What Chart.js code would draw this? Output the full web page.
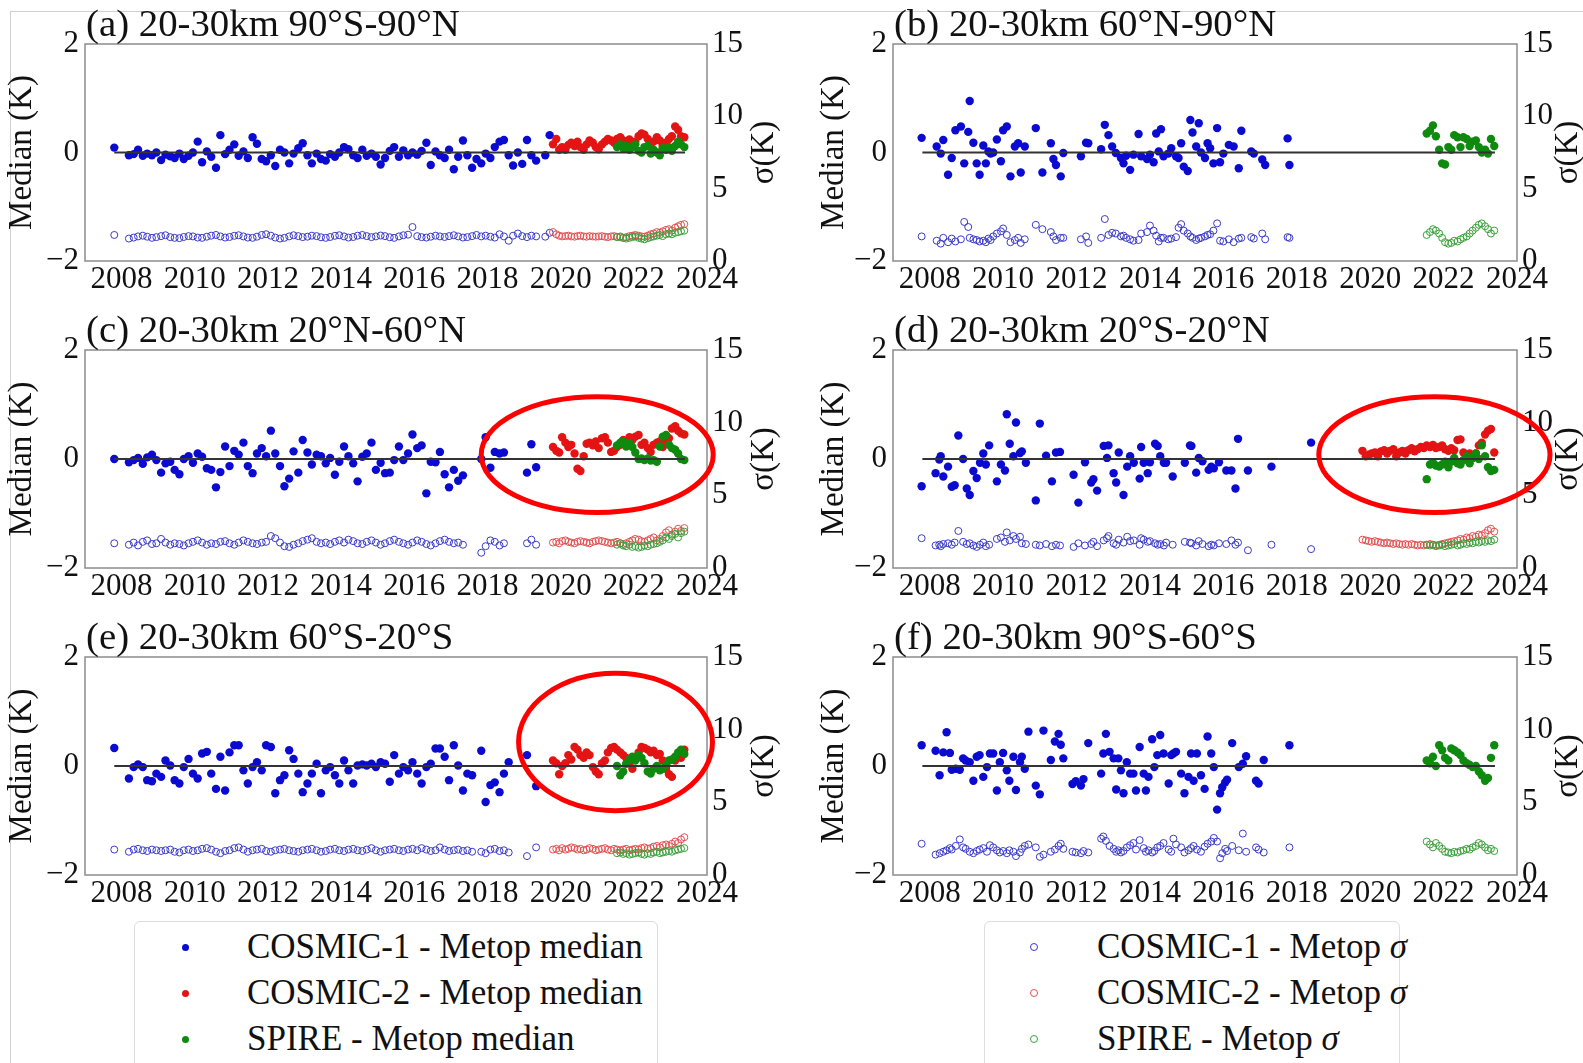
<!DOCTYPE html>
<html>
<head>
<meta charset="utf-8">
<script src="https://cdn.jsdelivr.net/npm/chart.js@4.4.0/dist/chart.umd.min.js"></script>
<style>
  body { margin: 0; background: #fff; width: 1583px; height: 1063px; overflow: hidden; position: relative; font-family: "Liberation Serif", serif; }
  .frame { position: absolute; left: 10px; top: 11px; right: 0; bottom: 0; border-top: 1px solid #d0d0d0; border-left: 1px solid #d0d0d0; }
  canvas { position: absolute; }
  .legend { position: absolute; top: 921px; height: 160px; border: 1px solid #dcdcdc; border-radius: 6px; background: #fff; }
  .legend .txt { position: absolute; font-size: 35px; line-height: 40px; color: #111; white-space: nowrap; }
  .legend .mk { position: absolute; border-radius: 50%; box-sizing: border-box; }
</style>
</head>
<body>
<div class="frame"></div>

<div class="legend" style="left:134px;width:522px;">
  <span class="mk" style="left:47px;top:22px;width:7px;height:7px;background:#0a0ad0"></span>
  <div class="txt" style="left:112px;top:5px">COSMIC-1 - Metop median</div>
  <span class="mk" style="left:47px;top:68px;width:7px;height:7px;background:#e41414"></span>
  <div class="txt" style="left:112px;top:51px">COSMIC-2 - Metop median</div>
  <span class="mk" style="left:47px;top:114px;width:7px;height:7px;background:#0e8a0e"></span>
  <div class="txt" style="left:112px;top:97px">SPIRE - Metop median</div>
</div>

<div class="legend" style="left:984px;width:414px;">
  <span class="mk" style="left:45px;top:21px;width:8px;height:8px;border:1px solid #3a3ac8"></span>
  <div class="txt" style="left:112px;top:5px">COSMIC-1 - Metop <i>σ</i></div>
  <span class="mk" style="left:45px;top:67px;width:8px;height:8px;border:1px solid #e05050"></span>
  <div class="txt" style="left:112px;top:51px">COSMIC-2 - Metop <i>σ</i></div>
  <span class="mk" style="left:45px;top:113px;width:8px;height:8px;border:1px solid #3aa03a"></span>
  <div class="txt" style="left:112px;top:97px">SPIRE - Metop <i>σ</i></div>
</div>

<script>
// axis ticks
const xTicks = [2008, 2010, 2012, 2014, 2016, 2018, 2020, 2022, 2024];
const medTicks = [-2, 0, 2];
const sigTicks = [0, 5, 10, 15];
const zeroLineX = [2007.8, 2023.4];

// COSMIC-1 months shared by panels a, c, e
const c1Months = [2007.80,
  2008.20, 2008.33, 2008.45, 2008.58, 2008.70, 2008.83, 2008.95,
  2009.08, 2009.20, 2009.33, 2009.45, 2009.58, 2009.70, 2009.83, 2009.95,
  2010.08, 2010.20, 2010.33, 2010.45, 2010.58, 2010.70, 2010.83, 2010.95,
  2011.08, 2011.20, 2011.33, 2011.45, 2011.58, 2011.70, 2011.83, 2011.95,
  2012.08, 2012.20, 2012.33, 2012.45, 2012.58, 2012.70, 2012.83, 2012.95,
  2013.08, 2013.20, 2013.33, 2013.45, 2013.58, 2013.70, 2013.83, 2013.95,
  2014.08, 2014.20, 2014.33, 2014.45, 2014.58, 2014.70, 2014.83, 2014.95,
  2015.08, 2015.20, 2015.33, 2015.45, 2015.58, 2015.70, 2015.83, 2015.95,
  2016.08, 2016.20, 2016.33, 2016.45, 2016.58, 2016.70, 2016.83, 2016.95,
  2017.08, 2017.20, 2017.33, 2017.45, 2017.58, 2017.70, 2017.83, 2017.95,
  2018.08, 2018.20, 2018.33, 2018.45, 2018.58, 2018.70, 2018.83, 2018.95,
  2019.08, 2019.20, 2019.33, 2019.45, 2019.58, 2019.70];

// COSMIC-2 months (panels a, c, d, e)
const c2Months = [2019.79, 2019.88, 2019.96,
  2020.04, 2020.13, 2020.21, 2020.29, 2020.38, 2020.46, 2020.54, 2020.63, 2020.71, 2020.79, 2020.88, 2020.96,
  2021.04, 2021.13, 2021.21, 2021.29, 2021.38, 2021.46, 2021.54, 2021.63, 2021.71, 2021.79, 2021.88, 2021.96,
  2022.04, 2022.13, 2022.21, 2022.29, 2022.38, 2022.46, 2022.54, 2022.63, 2022.71, 2022.79, 2022.88, 2022.96,
  2023.04, 2023.13, 2023.21, 2023.29, 2023.38];

// SPIRE months (all panels)
const spMonths = [2021.54, 2021.63, 2021.71, 2021.79, 2021.88, 2021.96,
  2022.04, 2022.13, 2022.21, 2022.29, 2022.38, 2022.46, 2022.54, 2022.63, 2022.71, 2022.79, 2022.88, 2022.96,
  2023.04, 2023.13, 2023.21, 2023.29, 2023.38];

// (a) 90S-90N
const aBlueMed = [0.09,
  -0.05, -0.03, 0.05, -0.06, -0.02, -0.05, 0.0,
  -0.14, -0.04, -0.07, -0.1, -0.02, -0.12, -0.06, 0.0,
  0.2, -0.18, 0.02, -0.08, -0.28, 0.32, -0.03, 0.05,
  0.15, -0.06, 0.02, -0.1, 0.28, 0.16, -0.12, -0.16,
  -0.05, -0.25, 0.05, 0.0, -0.2, -0.02, 0.08, 0.17,
  -0.05, -0.2, -0.02, -0.12, -0.15, -0.03, -0.08, 0.0,
  0.1, 0.06, -0.05, -0.1, 0.05, -0.06, -0.02, -0.08,
  -0.22, -0.1, 0.03, 0.1, -0.08, 0.04, -0.05, 0.0,
  -0.04, 0.03, 0.18, -0.23, 0.02, -0.05, -0.1, 0.05,
  -0.31, -0.08, 0.22, -0.05, -0.28, -0.12, -0.2, -0.02,
  -0.1, 0.1, 0.2, 0.23, -0.05, -0.24, 0.0, -0.21,
  0.23, -0.05, -0.15, null, -0.05, 0.32];
const aBlueSig = [1.8,
  1.55, 1.62, 1.7, 1.75, 1.68, 1.6, 1.65,
  1.72, 1.78, 1.65, 1.6, 1.58, 1.66, 1.72, 1.7,
  1.62, 1.6, 1.68, 1.75, 1.8, 1.7, 1.62, 1.66,
  1.74, 1.78, 1.7, 1.62, 1.6, 1.68, 1.8, 1.85,
  1.75, 1.62, 1.55, 1.6, 1.7, 1.78, 1.72, 1.65,
  1.68, 1.75, 1.72, 1.64, 1.6, 1.66, 1.74, 1.78,
  1.7, 1.62, 1.66, 1.75, 1.8, 1.72, 1.65, 1.7,
  1.76, 1.72, 1.64, 1.6, 1.7, 1.78, 1.82, 2.35,
  1.72, 1.65, 1.62, 1.68, 1.75, 1.7, 1.66, 1.72,
  1.78, 1.7, 1.62, 1.65, 1.72, 1.8, 1.7, 1.75,
  1.68, 1.62, 1.85, 1.7, 1.4, 1.75, 1.9, 1.72,
  1.65, 1.75, 1.7, null, 1.68, 1.95];
const aRedMed = [0.15, 0.25, 0.05,
  0.1, 0.05, 0.14, 0.18, 0.12, 0.2, 0.1, 0.05, 0.15, 0.22, 0.18, 0.1,
  0.06, 0.15, 0.2, 0.25, 0.22, 0.18, 0.25, 0.28, 0.22, 0.2, 0.24, 0.18,
  0.2, 0.3, 0.35, 0.33, 0.25, 0.15, 0.2, 0.28, 0.22, 0.12, 0.18, 0.25,
  0.3, 0.48, 0.42, 0.3, 0.28];
const aRedSig = [2.0, 1.85, 1.75,
  1.7, 1.72, 1.75, 1.7, 1.68, 1.72, 1.75, 1.7, 1.68, 1.72, 1.7, 1.68,
  1.7, 1.72, 1.68, 1.65, 1.7, 1.72, 1.68, 1.65, 1.6, 1.65, 1.72, 1.75,
  1.8, 1.75, 1.7, 1.68, 1.75, 1.85, 1.9, 2.0, 1.95, 2.05, 2.15, 2.2,
  2.1, 2.3, 2.4, 2.5, 2.55];
const aGreenMed = [0.1, 0.15, 0.08, 0.12, 0.05, 0.1, 0.15, 0.03, 0.0, 0.1, 0.12, -0.02,
  0.05, 0.0, -0.05, 0.08, 0.05, 0.1, 0.03, 0.12, 0.2, 0.15, 0.1];
const aGreenSig = [1.65, 1.7, 1.6, 1.55, 1.6, 1.65, 1.7, 1.6, 1.55, 1.5, 1.58, 1.65,
  1.7, 1.75, 1.8, 1.72, 1.85, 1.9, 1.85, 1.95, 2.0, 2.05, 2.1];

// (b) 60N-90N
const bBlueMonths = [2007.78, 2008.19, 2008.30, 2008.37, 2008.50, 2008.60, 2008.70, 2008.85, 2008.94, 2009.05,
  2009.09, 2009.19, 2009.28, 2009.36, 2009.46, 2009.53, 2009.60, 2009.66, 2009.73, 2009.83,
  2009.94, 2010.00, 2010.10, 2010.20, 2010.32, 2010.41, 2010.48, 2010.59, 2010.89, 2011.07,
  2011.30, 2011.37, 2011.44, 2011.57, 2011.64, 2012.12, 2012.26, 2012.32, 2012.67, 2012.77,
  2012.87, 2012.97, 2013.07, 2013.21, 2013.28, 2013.35, 2013.46, 2013.55, 2013.69, 2013.76,
  2013.92, 2014.00, 2014.10, 2014.17, 2014.24, 2014.30, 2014.37, 2014.50, 2014.58, 2014.71,
  2014.78, 2014.85, 2014.92, 2015.03, 2015.10, 2015.16, 2015.26, 2015.33, 2015.39, 2015.50,
  2015.57, 2015.64, 2015.73, 2015.83, 2015.91, 2016.00, 2016.15, 2016.28, 2016.42, 2016.49,
  2016.76, 2016.83, 2017.06, 2017.14, 2017.75, 2017.80];
const bBlueMed = [0.27, 0.11, -0.02, 0.23, -0.41, -0.1, 0.41, 0.48, -0.2, 0.38,
  0.95, 0.18, -0.2, -0.41, 0.13, -0.2, 0.02, -0.02, 0.0, 0.24,
  -0.16, 0.41, 0.48, -0.44, 0.11, 0.17, -0.37, 0.11, 0.45, -0.37,
  0.17, -0.12, -0.23, -0.44, -0.01, -0.07, 0.18, 0.17, 0.06, 0.51,
  0.32, 0.11, -0.01, -0.1, -0.2, -0.06, -0.32, -0.04, 0.34, -0.07,
  -0.12, -0.04, -0.18, 0.35, 0.02, 0.43, -0.07, -0.02, 0.08, -0.07,
  -0.1, 0.17, -0.26, -0.34, 0.6, 0.37, 0.11, 0.54, 0.0, -0.1,
  0.17, 0.08, -0.2, 0.45, -0.18, -0.02, 0.14, 0.11, -0.29, 0.4,
  0.02, -0.02, -0.13, -0.23, 0.26, -0.23];
const bBlueSig = [1.7, 1.4, 1.2, 1.6, 1.3, 1.55, 1.35, 1.5, 2.7, 2.35,
  1.6, 1.5, 1.45, 1.35, 1.4, 1.3, 1.55, 1.45, 1.7, 1.9,
  2.05, 2.25, 1.8, 1.3, 1.45, 1.6, 1.25, 1.5, 2.5, 2.2,
  2.0, 1.7, 1.45, 1.6, 1.6, 1.5, 1.7, 1.25, 1.6, 2.9,
  1.8, 1.95, 1.9, 1.7, 1.75, 1.6, 1.5, 1.4, 1.45, 1.9,
  2.0, 2.45, 2.1, 1.75, 1.35, 1.6, 1.6, 1.5, 1.55, 1.65,
  2.3, 2.55, 2.1, 1.9, 1.7, 1.6, 1.45, 1.55, 1.6, 1.7,
  1.8, 1.85, 2.1, 2.6, 1.4, 1.35, 1.5, 1.3, 1.55, 1.6,
  1.65, 1.55, 1.9, 1.5, 1.65, 1.6];
const bGreenMed = [0.35, 0.4, 0.5, 0.3, 0.05, -0.2, -0.22, 0.1, 0.05, 0.32, 0.28, 0.1,
  0.28, 0.25, 0.12, 0.2, 0.22, 0.1, 0.0, 0.05, -0.02, 0.25, 0.12];
const bGreenSig = [1.8, 2.0, 2.2, 2.1, 1.9, 1.6, 1.3, 1.2, 1.25, 1.4, 1.35, 1.5,
  1.6, 1.7, 1.9, 2.1, 2.3, 2.5, 2.6, 2.4, 2.2, 1.9, 2.1];

// (c) 20N-60N
const cBlueMed = [0.0,
  -0.06, -0.02, 0.02, -0.09, 0.03, 0.08, -0.02,
  -0.25, -0.08, -0.05, -0.2, -0.28, 0.0, 0.05, -0.07,
  0.1, 0.04, -0.17, -0.2, -0.52, -0.24, 0.23, -0.13,
  0.15, 0.08, 0.3, -0.13, -0.26, 0.1, 0.2, 0.05,
  0.52, 0.1, -0.13, -0.5, -0.36, 0.14, -0.25, 0.35,
  0.12, -0.1, 0.08, 0.05, -0.08, 0.02, -0.29, -0.05,
  0.23, 0.05, -0.08, -0.41, 0.04, 0.1, 0.3, -0.2,
  -0.07, -0.26, -0.25, -0.02, 0.23, -0.02, 0.1, 0.45,
  0.2, 0.25, -0.63, -0.05, -0.06, 0.13, -0.28, -0.52,
  -0.2, -0.4, -0.3, null, null, null, 0.0, 0.4,
  -0.16, 0.13, 0.1, 0.12, null, null, null, null,
  -0.25, 0.27, -0.15, null, null, null];
const cBlueSig = [1.7,
  1.6, 1.75, 1.55, 1.8, 1.9, 1.65, 1.7,
  2.0, 1.75, 1.6, 1.7, 1.65, 1.55, 1.7, 1.8,
  1.9, 1.75, 1.6, 1.7, 1.65, 1.8, 1.85, 1.7,
  1.6, 1.75, 1.9, 1.8, 1.7, 1.65, 1.75, 1.8,
  2.2, 2.05, 1.75, 1.5, 1.45, 1.6, 1.7, 1.85,
  1.95, 2.05, 1.8, 1.7, 1.75, 1.65, 1.8, 1.9,
  1.75, 1.95, 1.85, 1.7, 1.65, 1.8, 1.9, 1.75,
  1.6, 1.7, 1.85, 1.95, 1.8, 1.7, 1.6, 1.75,
  1.9, 1.8, 1.65, 1.55, 1.7, 1.85, 1.95, 1.8,
  1.7, 1.75, 1.6, null, null, null, 1.05, 1.5,
  1.9, 1.8, 1.55, 1.7, null, null, null, null,
  1.7, 1.95, 1.6, null, null, null];
const cRedMed = [0.22, 0.15, 0.12,
  0.4, 0.3, 0.22, 0.26, 0.1, -0.18, -0.22, 0.05, 0.28, 0.3, 0.25, 0.32,
  0.2, 0.38, 0.4, 0.3, 0.13, 0.15, 0.22, 0.26, 0.35, 0.3, 0.4, 0.35,
  0.41, 0.44, 0.26, 0.3, 0.2, 0.13, 0.26, 0.3, 0.32, 0.22, 0.3, 0.38,
  0.56, 0.6, 0.52, 0.47, 0.45];
const cRedSig = [1.75, 1.8, 1.7,
  1.85, 1.9, 1.8, 1.75, 1.7, 1.8, 1.85, 1.8, 1.75, 1.7, 1.8, 1.85,
  1.9, 1.85, 1.8, 1.75, 1.7, 1.75, 1.8, 1.7, 1.65, 1.7, 1.8, 1.9,
  2.0, 1.95, 1.85, 1.8, 1.9, 2.0, 2.1, 1.9, 2.0, 2.2, 2.45, 2.6,
  2.3, 2.5, 2.7, 2.55, 2.75];
const cGreenMed = [0.25, 0.3, 0.32, 0.23, 0.29, 0.22, 0.12, 0.0, 0.01, -0.02, 0.01, -0.03,
  -0.02, -0.05, 0.23, 0.41, 0.44, 0.26, 0.2, 0.17, 0.1, 0.0, -0.02];
const cGreenSig = [1.6, 1.7, 1.55, 1.5, 1.6, 1.45, 1.5, 1.4, 1.45, 1.55, 1.5, 1.6,
  1.65, 1.7, 1.8, 1.9, 2.1, 2.0, 2.2, 2.35, 2.1, 2.4, 2.5];

// (d) 20S-20N
const dBlueMonths = [2007.78, 2008.16, 2008.26, 2008.30, 2008.37, 2008.50, 2008.60, 2008.68, 2008.78, 2008.91,
  2009.01, 2009.09, 2009.19, 2009.28, 2009.37, 2009.46, 2009.53, 2009.62, 2009.83, 2009.94,
  2010.05, 2010.10, 2010.18, 2010.28, 2010.35, 2010.46, 2010.51, 2010.62, 2010.89, 2011.00,
  2011.17, 2011.33, 2011.44, 2011.55, 2011.92, 2012.05, 2012.23, 2012.40, 2012.46, 2012.56,
  2012.74, 2012.83, 2012.87, 2013.01, 2013.08, 2013.15, 2013.28, 2013.38, 2013.46, 2013.56,
  2013.72, 2013.76, 2013.83, 2013.94, 2014.00, 2014.14, 2014.21, 2014.28, 2014.38, 2014.44,
  2014.62, 2014.95, 2015.09, 2015.13, 2015.26, 2015.33, 2015.43, 2015.60, 2015.67, 2015.74,
  2015.88, 2016.08, 2016.22, 2016.33, 2016.40, 2016.67, 2017.31, 2018.39];
const dBlueMed = [-0.5, -0.26, -0.01, 0.05, -0.32, -0.14, -0.51, -0.48, 0.43, 0.0,
  -0.54, -0.66, -0.22, -0.35, -0.07, 0.1, -0.1, 0.25, -0.41, -0.1,
  -0.21, 0.82, 0.28, 0.05, 0.67, 0.11, 0.14, -0.07, -0.76, 0.65,
  0.06, -0.41, 0.12, 0.13, -0.29, -0.8, -0.06, -0.43, -0.37, -0.58,
  0.24, 0.02, 0.25, -0.26, -0.43, 0.12, -0.66, -0.14, 0.05, -0.07,
  -0.36, 0.22, -0.07, -0.26, -0.06, 0.28, 0.24, 0.05, -0.07, -0.07,
  -0.32, -0.07, 0.25, 0.24, -0.25, 0.02, -0.04, -0.2, -0.14, -0.17,
  -0.06, -0.21, -0.21, -0.54, 0.37, -0.21, -0.14, 0.3];
const dBlueSig = [2.05, 1.55, 1.6, 1.5, 1.65, 1.7, 1.6, 1.75, 2.55, 1.8,
  1.65, 1.7, 1.55, 1.45, 1.6, 1.75, 1.5, 1.6, 2.0, 2.1,
  1.8, 2.45, 1.9, 2.2, 2.0, 2.15, 1.7, 1.65, 1.6, 1.55,
  1.65, 1.5, 1.6, 1.55, 1.45, 1.7, 1.55, 1.65, 1.8, 1.5,
  1.9, 2.05, 2.2, 1.7, 1.6, 1.95, 1.75, 2.15, 1.85, 1.9,
  1.6, 2.05, 1.95, 1.8, 1.85, 1.7, 1.6, 1.65, 1.55, 1.75,
  1.6, 1.8, 1.75, 1.7, 1.55, 1.85, 1.65, 1.5, 1.6, 1.55,
  1.7, 1.65, 1.9, 1.6, 1.75, 1.22, 1.6, 1.3];
const dRedMed = [0.15, 0.05, 0.08,
  0.1, 0.12, 0.05, 0.14, 0.16, 0.1, 0.15, 0.18, 0.05, 0.12, 0.15, 0.1,
  0.16, 0.2, 0.14, 0.18, 0.22, 0.2, 0.25, 0.22, 0.26, 0.2, 0.22, 0.25,
  0.18, 0.15, 0.2, 0.16, 0.35, 0.36, 0.12, 0.05, 0.1, 0.02, 0.1, 0.25,
  0.3, 0.45, 0.52, 0.55, 0.12];
const dRedSig = [1.95, 1.9, 1.85,
  1.8, 1.85, 1.8, 1.75, 1.7, 1.75, 1.7, 1.65, 1.7, 1.65, 1.6, 1.65,
  1.6, 1.65, 1.6, 1.55, 1.6, 1.55, 1.6, 1.65, 1.6, 1.55, 1.6, 1.65,
  1.7, 1.75, 1.8, 1.85, 1.9, 2.0, 1.95, 2.1, 2.05, 2.2, 2.15, 2.3,
  2.25, 2.4, 2.6, 2.7, 2.5];
const dGreenMed = [-0.37, -0.1, -0.07, -0.12, -0.14, -0.1, -0.05, -0.15, -0.05, 0.02, -0.08, -0.1,
  -0.02, 0.05, -0.08, 0.02, 0.1, 0.0, 0.25, 0.05, -0.15, -0.22, -0.2];
const dGreenSig = [1.6, 1.55, 1.6, 1.5, 1.55, 1.6, 1.5, 1.55, 1.6, 1.65, 1.55, 1.6,
  1.7, 1.65, 1.75, 1.7, 1.8, 1.75, 1.85, 1.8, 1.9, 1.85, 1.95];

// (e) 60S-20S
const eBlueMed = [0.33,
  -0.23, -0.02, 0.03, -0.02, -0.26, -0.28, -0.14,
  -0.2, 0.1, 0.01, -0.26, -0.32, -0.02, 0.13, -0.14,
  -0.23, 0.23, 0.26, -0.14, -0.42, 0.17, -0.45, 0.25,
  0.38, 0.38, -0.08, -0.32, -0.02, 0.07, -0.08, 0.38,
  0.35, -0.5, -0.26, -0.17, 0.29, 0.13, -0.14, -0.48,
  -0.32, -0.14, 0.04, -0.5, -0.08, -0.02, -0.17, -0.32,
  0.1, -0.08, -0.32, 0.01, 0.03, 0.01, 0.04, -0.02,
  0.07, 0.04, -0.29, 0.2, -0.14, -0.02, -0.08, 0.07,
  -0.14, -0.32, -0.02, 0.04, 0.32, 0.32, 0.17, -0.26,
  0.38, 0.01, -0.45, -0.14, -0.17, null, 0.28, -0.66,
  -0.35, -0.3, -0.48, -0.14, 0.07, null, null, null,
  0.2, null, -0.37, null, null, null];
const eBlueSig = [1.75,
  1.6, 1.75, 1.8, 1.7, 1.65, 1.75, 1.7,
  1.65, 1.7, 1.75, 1.6, 1.55, 1.7, 1.75, 1.65,
  1.7, 1.8, 1.85, 1.75, 1.6, 1.5, 1.65, 1.7,
  1.85, 1.9, 1.75, 1.6, 1.7, 1.75, 1.8, 1.65,
  1.6, 1.7, 1.75, 1.8, 1.7, 1.65, 1.6, 1.7,
  1.75, 1.8, 1.7, 1.6, 1.65, 1.75, 1.8, 1.7,
  1.65, 1.75, 1.8, 1.7, 1.65, 1.75, 1.85, 1.7,
  1.6, 1.7, 1.75, 1.8, 1.7, 1.65, 1.75, 1.8,
  1.7, 1.85, 1.75, 1.65, 1.7, 1.9, 1.75, 1.65,
  1.7, 1.75, 1.65, 1.7, 1.6, null, 1.6, 1.5,
  1.75, 1.8, 1.65, 1.7, 1.55, null, null, null,
  1.3, null, 1.9, null, null, null];
const eRedMed = [0.1, 0.05, -0.15,
  0.0, 0.05, 0.2, 0.12, 0.35, 0.3, 0.2, 0.15, 0.25, 0.2, -0.02, -0.1,
  -0.15, 0.05, 0.1, 0.25, 0.33, 0.35, 0.3, 0.25, 0.2, 0.15, 0.05, -0.05,
  0.15, 0.25, 0.35, 0.33, 0.3, 0.25, 0.28, 0.2, 0.22, 0.1, -0.05, -0.15,
  -0.2, 0.1, 0.2, 0.15, 0.3];
const eRedSig = [1.75, 1.8, 1.7,
  1.85, 1.75, 1.8, 1.9, 1.85, 1.75, 1.8, 1.7, 1.75, 1.85, 1.8, 1.7,
  1.75, 1.8, 1.85, 1.75, 1.7, 1.8, 1.75, 1.7, 1.75, 1.8, 1.7, 1.75,
  1.8, 1.75, 1.85, 1.9, 1.8, 1.85, 1.95, 2.0, 1.9, 2.05, 2.1, 2.0,
  2.15, 2.3, 2.2, 2.45, 2.6];
const eGreenMed = [0.0, -0.17, -0.1, 0.04, 0.12, 0.17, 0.1, 0.2, 0.15, 0.05, -0.1, -0.14,
  -0.05, 0.0, -0.08, -0.05, 0.02, 0.1, 0.12, 0.17, 0.25, 0.3, 0.22];
const eGreenSig = [1.5, 1.55, 1.45, 1.5, 1.4, 1.45, 1.5, 1.55, 1.45, 1.4, 1.5, 1.45,
  1.55, 1.6, 1.5, 1.55, 1.6, 1.65, 1.6, 1.7, 1.75, 1.8, 1.85];

// (f) 90S-60S
const fBlueMonths = [2007.78, 2008.16, 2008.27, 2008.37, 2008.46, 2008.55, 2008.60, 2008.71, 2008.82, 2008.91,
  2008.98, 2009.09, 2009.19, 2009.28, 2009.36, 2009.46, 2009.56, 2009.64, 2009.73, 2009.83,
  2009.91, 2010.00, 2010.10, 2010.17, 2010.28, 2010.35, 2010.46, 2010.51, 2010.59, 2010.69,
  2010.89, 2011.00, 2011.10, 2011.30, 2011.41, 2011.51, 2011.57, 2011.64, 2011.89, 2011.98,
  2012.12, 2012.19, 2012.32, 2012.67, 2012.73, 2012.80, 2012.90, 2013.01, 2013.08, 2013.14,
  2013.21, 2013.28, 2013.37, 2013.46, 2013.55, 2013.62, 2013.72, 2013.83, 2013.89, 2013.96,
  2014.06, 2014.12, 2014.20, 2014.28, 2014.37, 2014.51, 2014.58, 2014.64, 2014.71, 2014.85,
  2014.94, 2015.05, 2015.12, 2015.19, 2015.28, 2015.39, 2015.49, 2015.57, 2015.67, 2015.74,
  2015.83, 2015.91, 2015.97, 2016.05, 2016.10, 2016.24, 2016.42, 2016.53, 2016.62, 2016.89,
  2016.96, 2017.10, 2017.80];
const fBlueMed = [0.38, 0.28, -0.17, 0.25, 0.62, 0.24, -0.07, -0.05, -0.07, 0.14,
  0.1, 0.07, -0.27, 0.17, 0.2, -0.2, -0.02, 0.23, 0.23, -0.45,
  0.07, 0.24, -0.08, -0.27, 0.17, -0.44, 0.07, 0.17, -0.05, 0.63,
  -0.36, -0.52, 0.65, 0.11, 0.45, 0.59, 0.39, 0.14, -0.33, -0.28,
  -0.36, -0.24, 0.42, -0.14, 0.23, 0.59, 0.26, 0.14, -0.43, 0.14,
  -0.08, -0.5, 0.07, -0.14, -0.14, -0.45, 0.35, -0.14, -0.45, -0.2,
  0.49, -0.02, 0.2, 0.57, 0.23, -0.32, 0.2, 0.23, 0.26, -0.14,
  -0.5, -0.2, 0.23, -0.27, 0.23, -0.17, -0.42, 0.54, 0.23, -0.02,
  -0.8, -0.5, -0.39, -0.3, -0.25, 0.42, -0.02, 0.04, 0.18, -0.27,
  -0.32, 0.11, 0.38];
const fBlueSig = [2.15, 1.4, 1.5, 1.6, 1.7, 1.85, 1.75, 2.0, 2.45, 1.9,
  1.8, 1.6, 1.5, 1.65, 1.75, 1.85, 1.6, 2.05, 1.9, 1.7,
  1.55, 1.65, 1.5, 1.7, 1.6, 1.3, 1.55, 1.8, 2.0, 2.1,
  1.9, 1.25, 1.4, 1.6, 1.75, 2.0, 2.15, 1.8, 1.6, 1.55,
  1.5, 1.65, 1.55, 2.5, 2.65, 2.35, 2.0, 1.8, 1.6, 1.7,
  1.55, 1.65, 1.9, 2.05, 2.2, 1.75, 2.4, 1.85, 1.6, 1.7,
  1.55, 1.65, 1.9, 2.0, 2.2, 1.75, 1.6, 2.5, 2.1, 1.9,
  1.55, 1.7, 1.85, 2.0, 1.75, 1.6, 1.95, 2.15, 2.3, 2.55,
  2.3, 1.15, 1.5, 1.8, 1.65, 2.0, 1.7, 2.85, 1.6, 1.9,
  1.75, 1.55, 1.9];
const fGreenMed = [0.1, 0.05, 0.17, 0.0, 0.38, 0.29, 0.15, 0.1, 0.32, 0.29, 0.25, 0.2,
  0.1, 0.05, 0.02, -0.02, 0.0, -0.1, -0.17, -0.27, -0.22, 0.15, 0.38];
const fGreenSig = [2.3, 2.1, 1.9, 2.2, 2.0, 1.8, 1.6, 1.55, 1.5, 1.6, 1.55, 1.65,
  1.7, 1.8, 1.75, 1.9, 2.0, 2.2, 2.1, 1.9, 1.7, 1.8, 1.65];

const colors = {
  b: { fill: '#0a0ad0', ring: '#3a3ac8' },
  r: { fill: '#e41414', ring: '#e05050' },
  g: { fill: '#0e8a0e', ring: '#3aa03a' }
};

const panels = [
  { title: '(a) 20-30km 90°S-90°N', left: 0, top: 0, w: 800, h: 300, pad: 44, lw: 85, rw: 93, xh: 39, labL: 63, labR: 57,
    sets: [[spMonths, aGreenMed, aGreenSig, 'g'], [c2Months, aRedMed, aRedSig, 'r'], [c1Months, aBlueMed, aBlueSig, 'b']], ell: null },
  { title: '(b) 20-30km 60°N-90°N', left: 795, top: 0, w: 788, h: 300, pad: 44, lw: 98, rw: 66, xh: 39, labL: 59, labR: 51,
    sets: [[spMonths, bGreenMed, bGreenSig, 'g'], [bBlueMonths, bBlueMed, bBlueSig, 'b']], ell: null },
  { title: '(c) 20-30km 20°N-60°N', left: 0, top: 305, w: 800, h: 305, pad: 45, lw: 85, rw: 93, xh: 42, labL: 63, labR: 57,
    sets: [[spMonths, cGreenMed, cGreenSig, 'g'], [c2Months, cRedMed, cRedSig, 'r'], [c1Months, cBlueMed, cBlueSig, 'b']],
    ell: { cx: 2021.0, cy: 0.08, rx: 3.17, ry: 1.06 } },
  { title: '(d) 20-30km 20°S-20°N', left: 795, top: 305, w: 788, h: 305, pad: 45, lw: 98, rw: 66, xh: 42, labL: 59, labR: 51,
    sets: [[spMonths, dGreenMed, dGreenSig, 'g'], [c2Months, dRedMed, dRedSig, 'r'], [dBlueMonths, dBlueMed, dBlueSig, 'b']],
    ell: { cx: 2021.75, cy: 0.08, rx: 3.15, ry: 1.06 } },
  { title: '(e) 20-30km 60°S-20°S', left: 0, top: 612, w: 800, h: 298, pad: 45, lw: 85, rw: 93, xh: 35, labL: 63, labR: 57,
    sets: [[spMonths, eGreenMed, eGreenSig, 'g'], [c2Months, eRedMed, eRedSig, 'r'], [c1Months, eBlueMed, eBlueSig, 'b']],
    ell: { cx: 2021.5, cy: 0.44, rx: 2.65, ry: 1.26 } },
  { title: '(f) 20-30km 90°S-60°S', left: 795, top: 612, w: 788, h: 298, pad: 45, lw: 98, rw: 66, xh: 35, labL: 59, labR: 51,
    sets: [[spMonths, fGreenMed, fGreenSig, 'g'], [fBlueMonths, fBlueMed, fBlueSig, 'b']], ell: null }
];

const FONT = 'Liberation Serif';
Chart.defaults.font.family = FONT;

function pts(xs, ys) {
  return xs.map((x, i) => ({ x: x, y: ys[i] })).filter(p => p.y !== null && p.y !== undefined);
}

// frame, titles, axis labels and the red marking ellipses
const decor = {
  id: 'decor',
  afterDatasetsDraw(chart, args, o) {
    const ctx = chart.ctx, a = chart.chartArea;
    ctx.save();
    ctx.strokeStyle = '#8c8c8c';
    ctx.lineWidth = 1.5;
    ctx.strokeRect(a.left, a.top, a.right - a.left, a.bottom - a.top);

    if (o.ell) {
      const xs = chart.scales.x, ys = chart.scales.y;
      const cx = xs.getPixelForValue(o.ell.cx), cy = ys.getPixelForValue(o.ell.cy);
      const rx = Math.abs(xs.getPixelForValue(o.ell.cx + o.ell.rx) - cx);
      const ry = Math.abs(ys.getPixelForValue(o.ell.cy + o.ell.ry) - cy);
      ctx.beginPath();
      ctx.ellipse(cx, cy, rx, ry, 0, 0, Math.PI * 2);
      ctx.strokeStyle = '#ff0000';
      ctx.lineWidth = 5;
      ctx.stroke();
    }

    ctx.fillStyle = '#111';
    ctx.font = '38.8px "' + FONT + '"';
    ctx.textAlign = 'left';
    ctx.textBaseline = 'alphabetic';
    ctx.fillText(o.title, a.left + 1, a.top - 8);

    const midY = (a.top + a.bottom) / 2;
    ctx.font = '33px "' + FONT + '"';
    ctx.textAlign = 'center';
    ctx.textBaseline = 'middle';
    ctx.save();
    ctx.translate(a.left - o.labL, midY);
    ctx.rotate(-Math.PI / 2);
    ctx.fillText('Median (K)', 0, 0);
    ctx.restore();
    ctx.save();
    ctx.translate(a.right + o.labR, midY);
    ctx.rotate(-Math.PI / 2);
    ctx.fillText('σ(K)', 0, 0);
    ctx.restore();
    ctx.restore();
  }
};

panels.forEach(p => {
  const cv = document.createElement('canvas');
  cv.width = p.w;
  cv.height = p.h;
  cv.style.left = p.left + 'px';
  cv.style.top = p.top + 'px';
  cv.style.width = p.w + 'px';
  cv.style.height = p.h + 'px';
  document.body.appendChild(cv);

  const datasets = [{
    data: zeroLineX.map(x => ({ x: x, y: 0 })),
    showLine: true, borderColor: '#333333', borderWidth: 2, pointRadius: 0, yAxisID: 'y'
  }];
  p.sets.forEach(s => {
    datasets.push({
      data: pts(s[0], s[1]), yAxisID: 'y',
      pointRadius: 4.2, pointBackgroundColor: colors[s[3]].fill, pointBorderColor: colors[s[3]].fill, pointBorderWidth: 0
    });
  });
  p.sets.forEach(s => {
    datasets.push({
      data: pts(s[0], s[2]), yAxisID: 'y2',
      pointRadius: 3.5, pointBackgroundColor: 'rgba(0,0,0,0)', pointBorderColor: colors[s[3]].ring, pointBorderWidth: 1
    });
  });

  const tickFont = { family: FONT, size: 31 };
  new Chart(cv, {
    type: 'scatter',
    data: { datasets },
    options: {
      responsive: false,
      animation: false,
      devicePixelRatio: 1,
      layout: { padding: { top: p.pad, left: 0, right: 0, bottom: 0 } },
      plugins: { legend: { display: false }, tooltip: { enabled: false }, decor: p },
      scales: {
        x: {
          type: 'linear', min: 2007, max: 2024,
          afterBuildTicks: s => { s.ticks = xTicks.map(v => ({ value: v })); },
          afterFit: s => { s.height = p.xh; },
          ticks: { font: tickFont, color: '#111', padding: 0, autoSkip: false, maxRotation: 0, callback: v => String(v) },
          grid: { display: false, drawTicks: false },
          border: { display: false }
        },
        y: {
          position: 'left', min: -2, max: 2,
          afterBuildTicks: s => { s.ticks = medTicks.map(v => ({ value: v })); },
          afterFit: s => { s.width = p.lw; },
          ticks: { font: tickFont, color: '#111', padding: 6, callback: v => v < 0 ? '−' + Math.abs(v) : String(v) },
          grid: { display: false, drawTicks: false },
          border: { display: false }
        },
        y2: {
          position: 'right', min: 0, max: 15,
          afterBuildTicks: s => { s.ticks = sigTicks.map(v => ({ value: v })); },
          afterFit: s => { s.width = p.rw; },
          ticks: { font: tickFont, color: '#111', padding: 5, callback: v => String(v) },
          grid: { display: false, drawTicks: false },
          border: { display: false }
        }
      }
    },
    plugins: [decor]
  });
});
</script>
</body>
</html>
